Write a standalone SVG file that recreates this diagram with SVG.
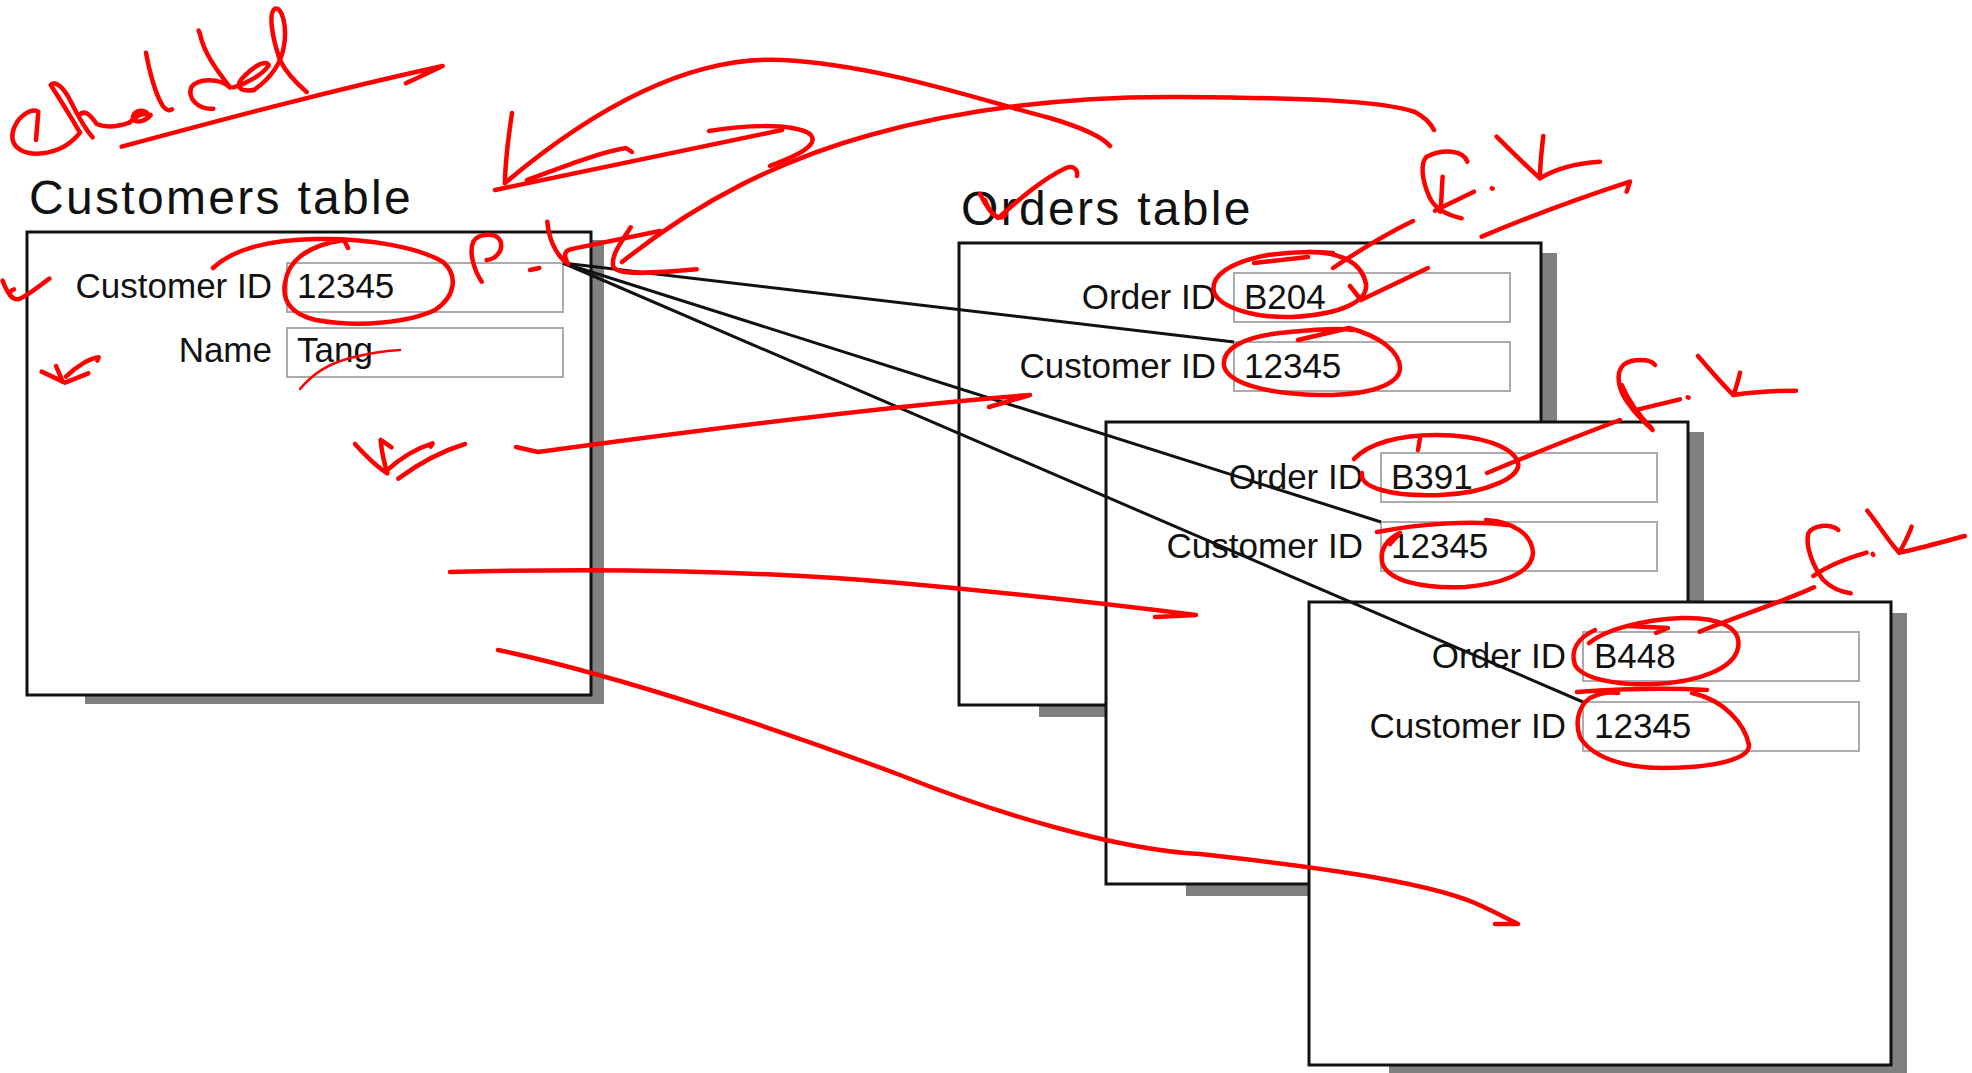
<svg xmlns="http://www.w3.org/2000/svg" width="1972" height="1073" viewBox="0 0 1972 1073">
<defs>
<style>
.title{font-family:"Liberation Sans",Arial,Helvetica,sans-serif;font-size:48px;letter-spacing:2.3px;fill:#111}
.lbl{font-family:"Liberation Sans",Arial,Helvetica,sans-serif;font-size:35px;fill:#111}
.r{text-anchor:end}
.box{fill:#fff;stroke:#111;stroke-width:3}
.shadow{fill:#808080}
.field{fill:#fff;stroke:#ababab;stroke-width:2}
.conn{stroke:#111;stroke-width:3;fill:none}
.ink{fill:none;stroke:#f00;stroke-width:4.5;stroke-linecap:round;stroke-linejoin:round}
.ink3{fill:none;stroke:#f00;stroke-width:13.5;stroke-linecap:round;stroke-linejoin:round}
</style>
</defs>
<rect width="1972" height="1073" fill="#fff"/>

<g id="customers">
<text class="title" x="29" y="214">Customers table</text>
<rect class="shadow" x="85" y="240" width="519" height="464"/>
<rect class="box" x="27" y="232" width="564" height="463"/>
<rect class="field" x="287" y="263" width="276" height="49"/>
<text class="lbl r" x="272" y="298">Customer ID</text>
<text class="lbl" x="297" y="298">12345</text>
<rect class="field" x="287" y="328" width="276" height="49"/>
<text class="lbl r" x="272" y="362">Name</text>
<text class="lbl" x="297" y="362">Tang</text>
</g>

<g id="order-b204">
<text class="title" x="961" y="225">Orders table</text>
<rect class="shadow" x="1039" y="253" width="518" height="464"/>
<rect class="box" x="959" y="243" width="582" height="462"/>
<rect class="field" x="1234" y="273" width="276" height="49"/>
<text class="lbl r" x="1216" y="309">Order ID</text>
<text class="lbl" x="1244" y="309">B204</text>
<rect class="field" x="1234" y="342" width="276" height="49"/>
<text class="lbl r" x="1216" y="378">Customer ID</text>
<text class="lbl" x="1244" y="378">12345</text>
</g>

<g id="order-b391">
<rect class="shadow" x="1186" y="432" width="518" height="464"/>
<rect class="box" x="1106" y="422" width="582" height="462"/>
<rect class="field" x="1381" y="453" width="276" height="49"/>
<text class="lbl r" x="1363" y="489">Order ID</text>
<text class="lbl" x="1391" y="489">B391</text>
<rect class="field" x="1381" y="522" width="276" height="49"/>
<text class="lbl r" x="1363" y="558">Customer ID</text>
<text class="lbl" x="1391" y="558">12345</text>
</g>

<g id="order-b448">
<rect class="shadow" x="1389" y="613" width="518" height="464"/>
<rect class="box" x="1309" y="602" width="582" height="463"/>
<rect class="field" x="1583" y="632" width="276" height="49"/>
<text class="lbl r" x="1566" y="668">Order ID</text>
<text class="lbl" x="1594" y="668">B448</text>
<rect class="field" x="1583" y="702" width="276" height="49"/>
<text class="lbl r" x="1566" y="738">Customer ID</text>
<text class="lbl" x="1594" y="738">12345</text>
</g>

<g id="connectors">
<line class="conn" x1="563" y1="263" x2="1234" y2="342"/>
<line class="conn" x1="563" y1="263" x2="1381" y2="522"/>
<line class="conn" x1="563" y1="263" x2="1583" y2="702"/>
</g>

<g id="ink">
<g transform="scale(0.3333)" class="ink3">
<path d="M108,420 L115,335 C92,322 48,352 38,398 C30,445 75,466 128,460 C178,454 215,430 240,398"/>
<path d="M240,398 C215,355 175,290 152,255 C165,240 190,262 210,300 C235,350 258,390 278,412"/>
<path d="M238,345 C255,325 275,350 290,372 C320,385 355,380 388,368"/>
<path d="M388,368 C405,350 430,335 446,345 C432,320 392,335 400,358 C412,372 440,360 452,345"/>
<path d="M438,158 C446,205 465,282 490,320 C500,332 510,333 516,328"/>
<path d="M596,92 L600,102 C612,160 650,210 690,262"/>
<path d="M690,262 C655,232 592,236 574,262 C562,292 592,330 640,326"/>
<path d="M700,262 C742,250 790,222 806,196 C800,178 762,196 724,238 C706,262 722,276 762,270"/>
<path d="M762,270 C805,240 842,200 852,138 C862,78 846,20 826,26 C804,36 816,112 840,180 C860,222 892,252 920,276"/>
<path d="M365,440 C700,350 1000,270 1328,198 L1218,250"/>
</g>
<path class="ink" d="M512,113 C508,140 505,165 505,183"/>
<path class="ink" d="M505,183 C580,120 680,55 782,60 C880,65 980,100 1050,118 C1090,130 1105,140 1110,146"/>
<path class="ink" d="M495,190 L782,130"/>
<path class="ink" d="M709,131 C740,126 790,122 810,134 C822,146 790,158 770,166"/>
<path class="ink" d="M527,180 C560,168 600,152 626,148 L632,152"/>
<path class="ink" d="M622,262 C700,200 780,160 870,135 C960,110 1060,96 1180,97 C1300,98 1380,100 1415,112 C1426,118 1432,126 1434,130"/>
<g transform="translate(440,200) scale(0.3333)" class="ink3">
<path d="M125,245 C105,215 85,160 100,125 C115,100 170,95 182,125 C190,152 168,178 140,180"/>
<path d="M270,210 L298,204"/>
<path d="M322,65 C325,110 345,165 385,192 C372,170 368,150 400,146 L660,93"/>
<path d="M572,82 C540,130 512,170 520,200 C530,225 620,222 770,208"/>
</g>
<path class="ink" d="M213,268 C230,252 260,240 316,239 C370,238 420,248 443,262 C458,275 456,296 435,310 C410,322 360,328 316,320 C290,314 282,300 285,283 C288,262 305,246 344,240 L348,248"/>
<path class="ink" style="stroke-width:2.5" d="M300,389 C312,375 325,365 350,358 C370,353 385,351 400,350"/>
<g transform="translate(0,260) scale(0.3333)" class="ink3">
<path d="M8,62 C20,95 35,120 55,118 C80,110 115,80 148,56"/>
<path d="M42,88 C28,92 24,106 40,114"/>
<path d="M125,335 L195,368 L265,340"/>
<path d="M168,318 L188,365"/>
<path d="M198,350 C230,318 270,295 296,292 L292,302"/>
<path d="M1065,552 C1095,585 1130,620 1162,640"/>
<path d="M1175,562 L1142,540 C1146,580 1152,610 1162,635"/>
<path d="M1160,632 C1200,595 1250,565 1298,550 L1292,560"/>
<path d="M1195,656 C1250,615 1320,575 1395,552"/>
</g>
<path class="ink" d="M516,447 L538,452 C700,430 900,405 1030,395 L989,407"/>
<path class="ink" d="M450,572 C600,568 750,570 900,583 C1000,592 1100,603 1196,615 L1155,617"/>
<path class="ink" d="M498,650 C620,676 780,730 900,775 C1000,815 1120,850 1200,854 C1300,865 1420,880 1475,903 C1495,912 1510,920 1518,924 L1495,924"/>
<path class="ink" d="M980,194 C986,206 992,214 998,218 C1012,206 1040,180 1066,168 C1074,165 1078,170 1077,176"/>
<path class="ink" d="M985,200 C990,215 1000,222 1006,214"/>
<path class="ink" d="M1254,263 L1308,257 M1308,252 C1340,252 1362,262 1366,284 C1368,300 1345,314 1292,317 C1255,318 1220,308 1214,292 C1210,276 1230,262 1268,255 C1290,252 1310,251 1333,253"/>
<path class="ink" d="M1333,268 C1360,250 1390,232 1413,221"/>
<path class="ink" d="M1350,286 L1361,300 L1428,268"/>
<path class="ink" d="M1298,340 L1349,328 C1380,336 1400,352 1400,368 C1400,384 1370,396 1318,395 C1270,394 1228,384 1224,366 C1222,350 1240,336 1290,332 C1320,329 1340,328 1352,330"/>
<g transform="translate(1380,130) scale(0.3333)" class="ink3">
<path d="M262,95 C250,60 190,55 140,80 C120,100 125,150 150,205 C165,235 200,255 245,265"/>
<path d="M188,140 C185,180 185,220 180,245"/>
<path d="M165,242 C200,225 240,205 282,185"/>
<path d="M335,175 L338,176"/>
<path d="M350,20 C380,50 430,100 480,145"/>
<path d="M490,18 C485,60 480,100 480,145 C520,120 580,100 660,95"/>
<path d="M305,320 C400,280 550,220 750,155 L740,185"/>
</g>
<path class="ink" d="M1354,459 C1369,443 1400,435 1436,435 C1482,435 1512,447 1518,462 C1522,477 1487,493 1441,495 C1390,497 1359,487 1362,473"/>
<path class="ink" d="M1420,438 L1418,450"/>
<path class="ink" d="M1487,473 C1530,455 1580,435 1620,420"/>
<path class="ink" d="M1377,532 C1420,524 1470,520 1507,525 M1486,520 C1515,522 1532,535 1533,553 C1532,570 1510,583 1465,587 C1420,589 1390,580 1383,565 C1378,550 1388,538 1400,533"/>
<path class="ink" d="M1390,544 L1398,535"/>
<g transform="translate(1560,360) scale(0.3333)" class="ink3">
<path d="M285,15 C270,-5 215,-5 190,15 C165,40 175,90 205,130 C225,160 250,185 278,210"/>
<path d="M185,75 C200,110 230,160 275,205"/>
<path d="M235,148 L360,118"/>
<path d="M383,112 L386,113"/>
<path d="M414,-12 C450,30 490,75 520,105"/>
<path d="M540,38 C535,60 528,85 520,105 C580,95 650,92 708,92"/>
<path d="M835,510 C810,490 760,495 745,520 C735,560 760,620 790,660 C810,680 840,695 872,700"/>
<path d="M760,648 C800,620 860,595 920,578"/>
<path d="M938,582 L940,585"/>
<path d="M922,452 C960,500 990,550 1018,578"/>
<path d="M1055,500 C1045,530 1030,555 1018,578 C1080,565 1150,545 1215,528"/>
<path d="M762,682 C680,720 560,760 419,815"/>
</g>
<path class="ink" d="M1589,643 C1605,630 1640,620 1682,618 C1720,617 1742,628 1738,648 C1734,668 1700,682 1655,684 C1615,686 1582,678 1575,665 C1570,650 1578,638 1595,630"/>
<path class="ink" d="M1628,626 L1668,628 L1656,633"/>
<path class="ink" d="M1577,692 C1620,689 1670,688 1707,690 M1692,693 C1725,700 1745,725 1749,745 C1750,760 1710,768 1663,768 C1620,768 1590,755 1580,737 C1574,720 1580,705 1590,698 C1600,693 1610,692 1618,693"/>
</g>
</svg>
